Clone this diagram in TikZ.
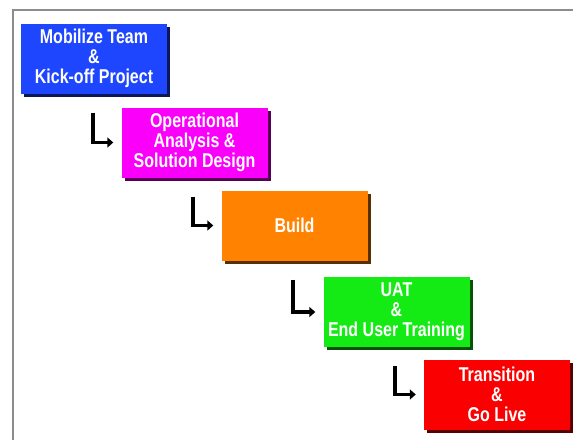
\documentclass[tikz,border=0pt]{standalone}
\usepackage{fontspec}
\setmainfont{Liberation Sans}[FakeStretch=0.8]
\usetikzlibrary{shadows,arrows.meta}
\definecolor{cblue}{RGB}{30,70,255}
\definecolor{cmag}{RGB}{250,0,250}
\definecolor{corange}{RGB}{255,130,0}
\definecolor{cgreen}{RGB}{20,235,20}
\definecolor{cred}{RGB}{250,0,0}
\tikzset{
  stagebox/.style={fill=#1, draw=none, text=white, inner sep=0pt,
    minimum width=146pt, minimum height=70pt, align=center,
    font=\bfseries\fontsize{20}{20}\selectfont,
    general shadow={fill=#1!35!black, shadow xshift=3pt, shadow yshift=-3pt}},
  flow/.style={line width=3.8pt, draw=black, -{Triangle[length=6pt,width=10pt]}},
  frameline/.style={draw=black!45, line width=1.8pt}
}
\begin{document}
\begin{tikzpicture}[x=1pt,y=-1pt]
\useasboundingbox (0,0) rectangle (573,440);
\coordinate (ftl) at (13,10);
\coordinate (ftr) at (573,10);
\coordinate (fbl) at (13,440);
\draw[frameline] (ftr) -- (ftl) -- (fbl);
\node[stagebox=cblue] (b1) at (94,58.5) {Mobilize Team\\\&\\Kick-off Project};
\node[stagebox=cmag] (b2) at (194.5,142.5) {Operational\\Analysis \&\\Solution Design};
\node[stagebox=corange] (b3) at (294.5,225.5) {Build};
\node[stagebox=cgreen] (b4) at (396.5,312) {UAT\\\&\\End User Training};
\node[stagebox=cred] (b5) at (497,394.5) {Transition\\\&\\Go Live};
\draw[flow] ([xshift=72pt,yshift=-19pt]b1.south west) |- ([xshift=-8pt]b2.west);
\draw[flow] ([xshift=72pt,yshift=-19pt]b2.south west) |- ([xshift=-8pt]b3.west);
\draw[flow] ([xshift=72pt,yshift=-19pt]b3.south west) |- ([xshift=-8pt]b4.west);
\draw[flow] ([xshift=72pt,yshift=-19pt]b4.south west) |- ([xshift=-8pt]b5.west);
\end{tikzpicture}
\end{document}
